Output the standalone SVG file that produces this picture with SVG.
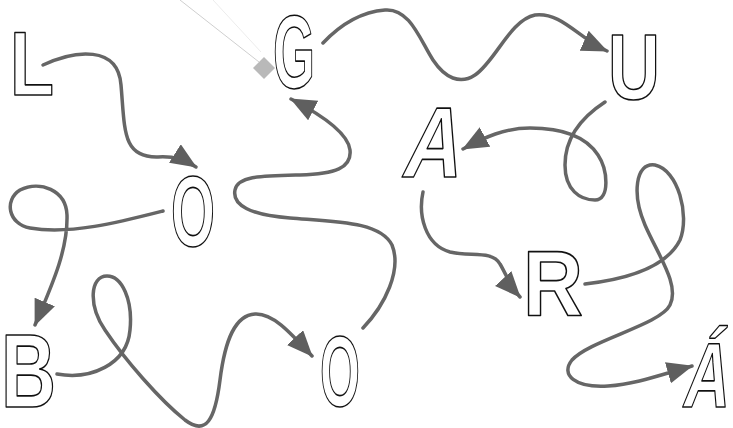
<svg xmlns="http://www.w3.org/2000/svg" width="733" height="428" viewBox="0 0 733 428">
<style>
.lt{font-family:"Liberation Sans",Arial,sans-serif;font-weight:bold;fill:#fff;stroke:#111;stroke-width:1.6;stroke-linejoin:round}
.ar{fill:none;stroke:#666;stroke-width:3.5;stroke-linecap:round;marker-end:url(#ah)}
</style>
<defs>
<marker id="ah" markerUnits="userSpaceOnUse" markerWidth="28" markerHeight="24" refX="25" refY="11" orient="auto" viewBox="0 0 28 24">
<path d="M0,0 L26,11 L0,22 z" fill="#5f5f5f"/>
</marker>
</defs>
<rect width="733" height="428" fill="#fff"/>
<line x1="180" y1="0" x2="259" y2="62" stroke="#cfcfcf" stroke-width="1"/>
<line x1="213" y1="0" x2="261" y2="52" stroke="#ececec" stroke-width="1"/>
<polygon points="264,57 275,68 264,79 253,68" fill="#b9b9b9"/>
<g id="connectors">
<path class="ar" d="M43,65 C75,50 118,45 121,85 C125,130 122,158 158,157 C175,156 185,160 196,167"/>
<path class="ar" d="M163,211 C120,222 70,235 30,228 C8,224 4,200 20,190 C40,180 66,190 67,215 C68,250 52,285 35,325"/>
<path class="ar" d="M57,374 C90,380 127,365 130,330 C133,300 122,276 107,276 C90,276 88,305 105,330 C125,360 160,400 185,420 C206,436 215,420 220,380 C225,340 235,315 255,314 C272,313 288,330 312,356"/>
<path class="ar" d="M363,328 C385,305 402,270 392,245 C380,222 340,222 290,218 C250,215 232,205 235,190 C238,176 260,176 300,175 C335,174 352,168 350,150 C348,132 318,113 291,99"/>
<path class="ar" d="M323,43 C340,25 360,12 385,10 C410,8 420,40 433,60 C445,78 460,85 475,75 C495,62 510,20 535,15 C562,12 578,38 607,51"/>
<path class="ar" d="M605,102 C585,115 565,135 565,165 C565,190 580,200 595,200 C610,200 608,170 598,155 C585,135 560,128 530,128 C505,128 485,137 463,149"/>
<path class="ar" d="M423,192 C418,215 425,245 450,252 C470,257 492,250 500,264 C505,272 510,286 520,297"/>
<path class="ar" d="M585,284 C620,280 665,270 680,240 C690,215 678,170 655,165 C635,162 632,195 645,225 C658,255 680,285 670,305 C660,325 590,340 572,360 C560,375 575,388 608,386 C636,384 660,375 692,366"/>
</g>
<g id="L"><text class="lt" x="10" y="95" font-size="91" textLength="44" lengthAdjust="spacingAndGlyphs">L</text></g>
<g id="G"><text class="lt" transform="translate(273,88) scale(0.52,1)" x="0" y="0" font-size="104" stroke-width="2.2">G</text></g>
<g id="U"><text class="lt" x="608" y="99" font-size="93" textLength="52" lengthAdjust="spacingAndGlyphs">U</text></g>
<g id="A"><text class="lt" transform="translate(400,177) skewX(-12)" x="0" y="0" font-size="100" textLength="58" lengthAdjust="spacingAndGlyphs">A</text></g>
<g id="O1"><text class="lt" x="171" y="246" font-size="100" textLength="44" lengthAdjust="spacingAndGlyphs">O</text></g>
<g id="B"><text class="lt" x="1" y="407" font-size="103" textLength="55" lengthAdjust="spacingAndGlyphs">B</text></g>
<g id="O2"><text class="lt" x="320" y="406" font-size="100" textLength="40" lengthAdjust="spacingAndGlyphs">O</text></g>
<g id="R"><text class="lt" x="523" y="315" font-size="93" textLength="60" lengthAdjust="spacingAndGlyphs">R</text></g>
<g id="A2"><text class="lt" transform="translate(681,407) skewX(-9) scale(0.69,1)" x="0" y="0" font-size="92" stroke-width="2">Á</text></g>
</svg>
